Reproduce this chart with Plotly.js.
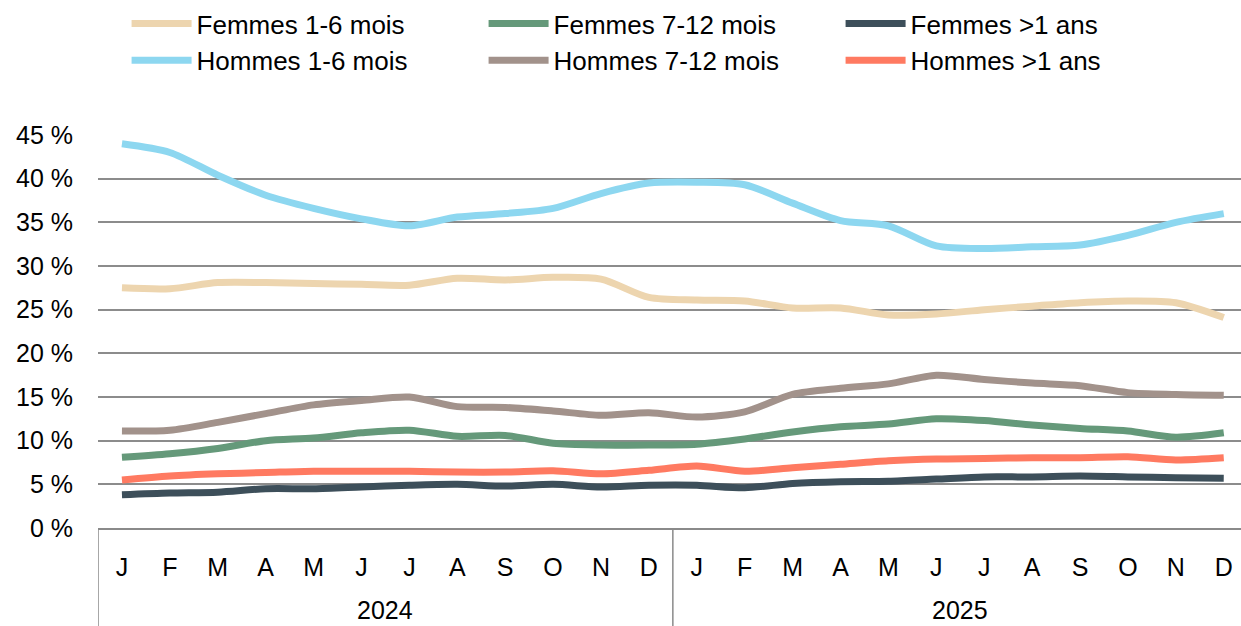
<!DOCTYPE html>
<html><head><meta charset="utf-8">
<script src="https://cdn.plot.ly/plotly-3.0.1.min.js"></script>
<style>html,body{margin:0;padding:0;background:#fff}#chart{width:1241px;height:626px}</style>
</head><body><div id="chart"></div>
<script>
var years = ['2024', '2025'];
var monthLabels = ['J','F','M','A','M','J','J','A','S','O','N','D'];

var femmes16  = [27.5,27.4,28.1,28.1,28.0,27.9,27.8,28.6,28.4,28.7,28.5,26.4, 26.1,26.0,25.2,25.2,24.4,24.5,25.0,25.4,25.8,26.0,25.8,24.1];
var femmes712 = [8.1,8.5,9.1,10.0,10.3,10.9,11.2,10.5,10.6,9.7,9.5,9.5, 9.6,10.2,11.0,11.6,11.9,12.5,12.3,11.8,11.4,11.1,10.4,10.9];
var femmes1a  = [3.8,4.0,4.1,4.5,4.5,4.7,4.9,5.0,4.8,5.0,4.7,4.9, 4.9,4.6,5.1,5.3,5.35,5.6,5.85,5.85,5.95,5.85,5.75,5.7];
var hommes16  = [44.0,43.0,40.4,38.1,36.6,35.4,34.6,35.6,36.0,36.6,38.3,39.5, 39.6,39.3,37.2,35.2,34.6,32.3,32.0,32.2,32.4,33.5,35.0,36.0];
var hommes712 = [11.1,11.2,12.1,13.1,14.1,14.6,15.0,13.9,13.8,13.4,12.9,13.2, 12.7,13.3,15.3,16.0,16.5,17.5,17.0,16.6,16.3,15.5,15.3,15.2];
var hommes1a  = [5.5,5.95,6.2,6.35,6.5,6.5,6.5,6.4,6.4,6.55,6.2,6.6, 7.1,6.5,6.9,7.3,7.7,7.9,7.95,8.05,8.05,8.15,7.8,8.05];

var names = ['Femmes 1-6 mois','Femmes 7-12 mois','Femmes >1 ans','Hommes 1-6 mois','Hommes 7-12 mois','Hommes >1 ans'];
var colors = ['#EDD5AF','#65997A','#3D4F5A','#8DD7F0','#A2928B','#FF7A61'];
var series = [femmes16, femmes712, femmes1a, hommes16, hommes712, hommes1a];

var xs = [], ticktext = [];
years.forEach(function(y, yi){ monthLabels.forEach(function(m, mi){ xs.push(yi*12+mi); ticktext.push(m); }); });

var traces = series.map(function(s, i){
  return {x: xs, y: s, name: names[i], type: 'scatter', mode: 'lines',
    line: {color: colors[i], width: 7, shape: 'spline', smoothing: 0.8}, hoverinfo: 'skip'};
});

var font = {family: 'Liberation Sans, Arial, sans-serif', size: 25, color: '#000'};
var legFont = {family: 'Liberation Sans, Arial, sans-serif', size: 26, color: '#000'};
var annotations = years.map(function(y, yi){
  return {text: y, x: yi*12+5.5, xref: 'x', y: -0.209, yref: 'paper', showarrow: false,
    font: font, xanchor: 'center', yanchor: 'middle'};
});
var shapes = [-0.5, 11.5].map(function(v){
  return {type: 'line', xref: 'x', yref: 'paper', x0: v, x1: v, y0: 0, y1: -0.26,
    line: {color: '#8a8a8a', width: 1.5}};
});

var layout = {
  width: 1241, height: 626,
  margin: {l: 98, r: 0, t: 135, b: 98, pad: 0},
  paper_bgcolor: '#fff', plot_bgcolor: '#fff',
  font: font,
  showlegend: true,
  legend: {orientation: 'h', xref: 'container', yref: 'container', x: 0.102, y: 1.0,
    xanchor: 'left', yanchor: 'top', entrywidth: 282, entrywidthmode: 'pixels',
    itemwidth: 60, font: legFont, tracegroupgap: 0, bgcolor: 'rgba(0,0,0,0)'},
  xaxis: {range: [-0.5, 23.36], tickvals: xs, ticktext: ticktext, showgrid: false,
    zeroline: false, showline: true, linecolor: '#8a8a8a', linewidth: 2,
    ticks: '', ticklabelstandoff: 16, tickfont: font, fixedrange: true},
  yaxis: {range: [0, 45], dtick: 5, tick0: 0, ticksuffix: ' %', showgrid: true,
    gridcolor: '#8c8c8c', gridwidth: 2, zeroline: false, showline: false,
    ticks: '', ticklabelstandoff: 24, tickfont: font, fixedrange: true},
  annotations: annotations,
  shapes: shapes
};

Plotly.newPlot('chart', traces, layout, {displayModeBar: false, staticPlot: true});
</script></body></html>
